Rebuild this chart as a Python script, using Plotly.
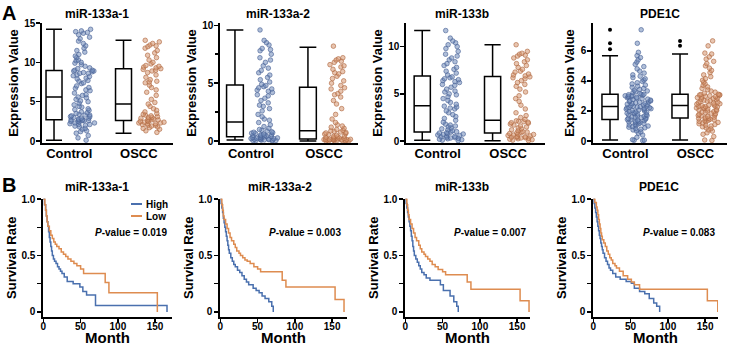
import plotly.graph_objects as go

# ---------------- data ----------------
genes = ["miR-133a-1", "miR-133a-2", "miR-133b", "PDE1C"]
groups = ["Control", "OSCC"]

# box statistics per gene
ctrl_lower = [0.1, 0.08, 0.1, 0.07]
ctrl_q1 = [2.7, 0.37, 0.97, 1.44]
ctrl_median = [5.6, 1.65, 3.75, 2.29]
ctrl_q3 = [8.96, 4.84, 6.9, 3.12]
ctrl_upper = [14.2, 9.6, 11.7, 5.68]
oscc_lower = [1.0, 0.0, 0.05, 0.07]
oscc_q1 = [2.6, 0.17, 0.85, 1.53]
oscc_median = [4.7, 0.88, 2.2, 2.36]
oscc_q3 = [9.2, 4.64, 6.85, 3.12]
oscc_upper = [12.8, 8.1, 10.2, 5.79]
ctrl_outliers = [[], [], [], [6.1, 6.5, 7.4]]
oscc_outliers = [[], [], [], [6.33, 6.66]]

# individual expression values (estimated)
ctrl_mir133a1 = [0.1, 0.4, 0.7, 1.0, 1.2, 1.3, 1.5, 1.6, 1.8, 1.9, 2.0, 2.1, 2.1, 2.2, 2.3, 2.3, 2.4, 2.5, 2.5, 2.6, 2.6, 2.6, 2.7, 2.7, 2.7,
                 2.8, 2.9, 2.9, 3.0, 3.1, 3.1, 3.2, 3.3, 3.3, 3.4, 3.5, 3.6, 3.7, 3.9, 4.0, 4.1, 4.3, 4.4, 4.6, 4.8, 5.0, 5.1, 5.3, 5.5, 5.6,
                 5.8, 5.9, 6.1, 6.4, 6.5, 6.7, 6.8, 7.0, 7.3, 7.4, 7.6, 7.7, 7.9, 8.0, 8.2, 8.3, 8.4, 8.6, 8.6, 8.7, 8.8, 8.9, 8.9, 9.0, 9.0,
                 9.2, 9.3, 9.5, 9.7, 9.9, 10.0, 10.2, 10.3, 10.6, 10.8, 11.0, 11.3, 11.5, 11.8, 12.1, 12.4, 12.7, 13.0, 13.2, 13.5, 13.7, 13.8, 13.9, 14.0, 14.2]
oscc_mir133a1 = [1.1, 1.3, 1.5, 1.6, 1.7, 1.8, 1.9, 2.0, 2.0, 2.1, 2.2, 2.2, 2.3, 2.3, 2.4, 2.4, 2.5, 2.5,
                 2.6, 2.7, 2.7, 2.8, 2.8, 2.9, 3.0, 3.0, 3.1, 3.2, 3.3, 3.4, 3.5, 3.7, 3.9, 4.1, 4.4, 4.7,
                 4.9, 5.3, 5.8, 6.2, 6.5, 6.8, 7.1, 7.4, 7.5, 7.6, 7.8, 8.1, 8.4, 8.7, 8.9, 9.0, 9.1, 9.2,
                 9.3, 9.4, 9.5, 9.6, 9.8, 10.0, 10.3, 10.6, 10.9, 11.2, 11.5, 11.8, 12.0, 12.1, 12.2, 12.4, 12.6, 12.8]
ctrl_mir133a2 = [0.02, 0.04, 0.05, 0.06, 0.08, 0.09, 0.1, 0.12, 0.14, 0.15, 0.17, 0.19, 0.2, 0.22, 0.25, 0.27, 0.29, 0.31, 0.33, 0.36,
                 0.39, 0.42, 0.45, 0.48, 0.5, 0.53, 0.56, 0.6, 0.64, 0.68, 0.72, 0.76, 0.8, 0.86, 0.93, 1.0, 1.1, 1.25, 1.4, 1.6,
                 1.8, 1.9, 2.1, 2.3, 2.6, 2.8, 3.0, 3.1, 3.3, 3.5, 3.7, 3.9, 4.0, 4.2, 4.3, 4.4, 4.5, 4.6, 4.7, 4.8,
                 4.9, 5.1, 5.3, 5.5, 5.7, 5.9, 6.1, 6.3, 6.5, 6.8, 7.0, 7.2, 7.5, 7.8, 7.9, 8.0, 8.3, 8.5, 8.7, 9.6]
oscc_mir133a2 = [0.01, 0.02, 0.03, 0.04, 0.05, 0.06, 0.07, 0.08, 0.09, 0.1, 0.1, 0.11, 0.12, 0.13, 0.14, 0.15, 0.16, 0.16,
                 0.18, 0.2, 0.23, 0.26, 0.3, 0.33, 0.37, 0.4, 0.45, 0.5, 0.55, 0.6, 0.65, 0.7, 0.74, 0.78, 0.83, 0.87,
                 0.92, 1.0, 1.1, 1.2, 1.3, 1.4, 1.6, 1.9, 2.3, 2.8, 3.2, 3.5, 3.8, 4.0, 4.1, 4.3, 4.5, 4.6,
                 4.8, 5.0, 5.2, 5.4, 5.6, 5.8, 5.9, 6.0, 6.2, 6.4, 6.5, 6.6, 6.8, 6.9, 7.0, 7.1, 7.2, 8.2]
ctrl_mir133b = [0.05, 0.1, 0.15, 0.2, 0.25, 0.3, 0.33, 0.37, 0.4, 0.45, 0.5, 0.55, 0.6, 0.65, 0.7, 0.75, 0.8, 0.85, 0.9, 0.95,
                1.0, 1.1, 1.2, 1.3, 1.4, 1.5, 1.6, 1.7, 1.8, 2.0, 2.2, 2.4, 2.6, 2.8, 3.0, 3.2, 3.4, 3.5, 3.6, 3.7,
                3.9, 4.1, 4.3, 4.5, 4.7, 4.9, 5.0, 5.2, 5.3, 5.5, 5.7, 5.9, 6.0, 6.2, 6.3, 6.4, 6.5, 6.6, 6.7, 6.8,
                7.0, 7.2, 7.4, 7.6, 7.8, 8.0, 8.2, 8.4, 8.6, 8.8, 9.0, 9.2, 9.5, 9.8, 10.0, 10.2, 10.4, 10.6, 10.9, 11.7]
oscc_mir133b = [0.05, 0.1, 0.15, 0.2, 0.25, 0.3, 0.33, 0.36, 0.4, 0.43, 0.46, 0.5, 0.55, 0.6, 0.65, 0.7, 0.75, 0.8,
                0.88, 0.92, 0.96, 1.0, 1.1, 1.2, 1.3, 1.4, 1.5, 1.6, 1.7, 1.8, 1.9, 1.95, 2.0, 2.05, 2.1, 2.15,
                2.3, 2.5, 2.7, 3.0, 3.4, 3.8, 4.2, 4.5, 4.8, 5.2, 5.5, 5.8, 6.0, 6.2, 6.4, 6.6, 6.7, 6.8,
                6.9, 7.0, 7.1, 7.3, 7.4, 7.6, 7.8, 8.0, 8.2, 8.4, 8.6, 8.8, 9.0, 9.1, 9.2, 9.3, 9.5, 10.2]
ctrl_pde1c = [0.03, 0.05, 0.06, 0.09, 0.25, 0.4, 0.52, 0.61, 0.68, 0.74, 0.79, 0.83, 0.88, 0.92, 0.97, 1.0, 1.04, 1.07, 1.1, 1.14,
              1.17, 1.2, 1.23, 1.27, 1.3, 1.33, 1.36, 1.38, 1.41, 1.43,
              1.46, 1.5, 1.52, 1.56, 1.59, 1.61, 1.65, 1.68, 1.7, 1.74, 1.77, 1.8, 1.83, 1.85, 1.89, 1.92, 1.94, 1.98, 2.01, 2.03,
              2.07, 2.1, 2.12, 2.15, 2.18, 2.2, 2.22, 2.24, 2.26, 2.28,
              2.31, 2.33, 2.36, 2.4, 2.42, 2.45, 2.49, 2.51, 2.54, 2.58, 2.6, 2.63, 2.67, 2.7, 2.72, 2.76, 2.79, 2.81, 2.85, 2.88,
              2.9, 2.93, 2.96, 2.98, 3.01, 3.03, 3.05, 3.08, 3.1, 3.11,
              3.16, 3.22, 3.27, 3.33, 3.38, 3.44, 3.5, 3.57, 3.65, 3.72, 3.8, 3.88, 3.97, 4.05, 4.14, 4.22, 4.31, 4.4, 4.52, 4.65,
              4.8, 4.95, 5.1, 5.25, 5.4, 5.55, 5.68, 5.9, 6.5, 7.4]
oscc_pde1c = [0.04, 0.07, 0.3, 0.45, 0.55, 0.66, 0.74, 0.82, 0.88, 0.95, 1.0, 1.06, 1.1, 1.15, 1.2, 1.24, 1.28, 1.31, 1.35, 1.38,
              1.42, 1.45, 1.48, 1.5, 1.52,
              1.55, 1.59, 1.63, 1.67, 1.7, 1.74, 1.78, 1.82, 1.85, 1.89, 1.93, 1.96, 2.0, 2.03, 2.07, 2.1, 2.14, 2.17, 2.2, 2.23,
              2.26, 2.29, 2.31, 2.33, 2.35,
              2.38, 2.41, 2.45, 2.48, 2.52, 2.55, 2.59, 2.62, 2.66, 2.69, 2.72, 2.76, 2.79, 2.82, 2.86, 2.89, 2.92, 2.95, 2.98, 3.01,
              3.04, 3.06, 3.08, 3.1, 3.11,
              3.18, 3.25, 3.33, 3.41, 3.5, 3.6, 3.7, 3.8, 3.92, 4.04, 4.15, 4.28, 4.4, 4.55, 4.7, 4.85, 5.0, 5.15, 5.3, 5.45,
              5.6, 5.79, 5.85, 6.33, 6.66]

ctrl_points = [ctrl_mir133a1, ctrl_mir133a2, ctrl_mir133b, ctrl_pde1c]
oscc_points = [oscc_mir133a1, oscc_mir133a2, oscc_mir133b, oscc_pde1c]

expr_tickvals = [[0, 5, 10, 15], [0, 5, 10], [0, 5, 10], [0, 2, 4, 6]]
expr_minorvals = [[], [2.5, 7.5], [], []]

# Kaplan-Meier step curves (month, survival) for High / Low expression
km_high_t = [
    [0, 1.5, 3, 4, 5, 6, 7, 8, 9, 10, 11, 12, 13.5, 15, 17, 19, 21, 23, 25, 28, 32, 40, 49, 53, 58, 70, 166],
    [0, 1, 2, 3, 4, 5, 6, 7, 8, 9, 10, 11, 12, 14, 16, 18, 20, 23, 26, 29, 32, 35, 38, 44, 48, 52, 56, 60, 65, 69, 71],
    [0, 1, 2, 3, 4, 5, 6, 7, 8, 9, 10, 11, 12, 14, 16, 18, 20, 22, 25, 28, 33, 47, 51, 60, 65, 69, 71],
    [0, 1, 2, 3, 4, 5, 6, 7, 8, 9, 10, 11, 12, 13, 15, 17, 19, 21, 23, 26, 30, 36, 44, 51, 55, 62, 69, 75, 81, 85, 89],
]
km_high_s = [
    [1.0, 0.95, 0.90, 0.85, 0.80, 0.76, 0.71, 0.66, 0.62, 0.58, 0.54, 0.50, 0.47, 0.45, 0.43, 0.40, 0.38, 0.36, 0.34, 0.31, 0.27, 0.25, 0.22, 0.18, 0.15, 0.056, 0.0],
    [1.0, 0.96, 0.92, 0.88, 0.83, 0.79, 0.75, 0.71, 0.67, 0.63, 0.59, 0.55, 0.52, 0.48, 0.45, 0.42, 0.40, 0.37, 0.35, 0.32, 0.29, 0.265, 0.24, 0.21, 0.19, 0.17, 0.14, 0.12, 0.09, 0.05, 0.0],
    [1.0, 0.96, 0.92, 0.88, 0.84, 0.80, 0.76, 0.72, 0.67, 0.63, 0.58, 0.54, 0.50, 0.47, 0.44, 0.41, 0.38, 0.35, 0.33, 0.30, 0.28, 0.24, 0.19, 0.14, 0.09, 0.05, 0.0],
    [1.0, 0.96, 0.92, 0.88, 0.84, 0.80, 0.76, 0.72, 0.68, 0.65, 0.61, 0.58, 0.55, 0.52, 0.48, 0.45, 0.42, 0.39, 0.37, 0.34, 0.31, 0.29, 0.27, 0.255, 0.21, 0.18, 0.16, 0.12, 0.08, 0.05, 0.0],
]
km_low_t = [
    [0, 2, 3, 4, 5, 6, 8, 10, 12, 14, 16, 18, 21, 24, 27, 30, 33, 37, 41, 45, 50, 54, 83, 88, 153],
    [0, 2, 3, 4, 5, 7, 9, 11, 13, 15, 18, 20, 22, 25, 27, 30, 33, 36, 40, 45, 50, 54, 83, 88, 154, 166],
    [0, 2, 3, 4, 5, 7, 9, 11, 13, 15, 18, 20, 22, 25, 27, 30, 33, 36, 40, 44, 50, 54, 83, 88, 154, 166],
    [0, 2, 4, 5, 6, 7, 8, 9, 10, 11, 12, 14, 16, 18, 20, 22, 24, 26, 29, 31, 35, 40, 46, 51, 55, 62, 153, 167],
]
km_low_s = [
    [1.0, 0.95, 0.90, 0.85, 0.80, 0.76, 0.72, 0.68, 0.65, 0.62, 0.60, 0.58, 0.56, 0.53, 0.51, 0.49, 0.47, 0.45, 0.43, 0.41, 0.38, 0.34, 0.26, 0.17, 0.0],
    [1.0, 0.95, 0.90, 0.85, 0.82, 0.78, 0.74, 0.70, 0.66, 0.63, 0.60, 0.57, 0.54, 0.52, 0.50, 0.48, 0.46, 0.45, 0.43, 0.40, 0.38, 0.355, 0.28, 0.22, 0.11, 0.0],
    [1.0, 0.95, 0.90, 0.86, 0.82, 0.78, 0.74, 0.70, 0.66, 0.63, 0.59, 0.56, 0.53, 0.51, 0.49, 0.47, 0.45, 0.42, 0.40, 0.375, 0.355, 0.33, 0.265, 0.20, 0.10, 0.0],
    [1.0, 0.97, 0.93, 0.90, 0.86, 0.82, 0.78, 0.74, 0.70, 0.67, 0.64, 0.61, 0.58, 0.54, 0.51, 0.48, 0.46, 0.43, 0.41, 0.39, 0.36, 0.32, 0.29, 0.265, 0.24, 0.20, 0.10, 0.0],
]
km_labels = ["High", "Low"]
p_values = ["0.019", "0.003", "0.007", "0.083"]
km_xticks = [0, 50, 100, 150]
km_yticks = [0, 0.5, 1.0]
km_yticklabels = ["0", "0.5", "1.0"]
km_yminor = [0.25, 0.75]

# ---------------- layout helpers ----------------
W, H = 734, 346
FONT = "Liberation Sans, Arial, Helvetica, sans-serif"


def px(x):
    return x / W


def py(y):
    return 1 - y / H


BLUE_FILL = "rgba(112,138,186,0.55)"
BLUE_EDGE = "rgba(72,98,150,0.8)"
ORANGE_FILL = "rgba(214,150,112,0.55)"
ORANGE_EDGE = "rgba(176,106,66,0.8)"
KM_BLUE = "#4a70ae"
KM_ORANGE = "#de8c50"

colA = [(42, 173), (220, 358), (406, 545), (593, 727)]
colB = [(43, 172), (220, 347), (405, 530), (593, 718)]
xrangeA = [[-0.393, 1.492], [-0.425, 1.466], [-0.451, 1.525], [-0.463, 1.451]]
yrangeA = [[-0.25, 15], [-0.17, 10.2], [-0.2, 12.5], [-0.13, 7.85]]
xrangeB = [[-0.5, 172.7], [-0.5, 170], [-0.5, 167.3], [-0.5, 167.3]]
BOX_OFF, BOX_W = -0.22, 0.23
PTS_OFF, PTS_W = 0.19, 0.39

fig = go.Figure()

for i in range(4):
    xa, ya = f"x{i + 1}", f"y{i + 1}"
    stats = [
        (ctrl_lower[i], ctrl_q1[i], ctrl_median[i], ctrl_q3[i], ctrl_upper[i], ctrl_points[i], ctrl_outliers[i], BLUE_FILL, BLUE_EDGE),
        (oscc_lower[i], oscc_q1[i], oscc_median[i], oscc_q3[i], oscc_upper[i], oscc_points[i], oscc_outliers[i], ORANGE_FILL, ORANGE_EDGE),
    ]
    for g, (lo, q1, med, q3, up, pts, outs, fill, edge) in enumerate(stats):
        fig.add_trace(go.Box(
            x=[g + BOX_OFF], q1=[q1], median=[med], q3=[q3], lowerfence=[lo], upperfence=[up],
            width=BOX_W, whiskerwidth=1, fillcolor="white",
            line=dict(color="black", width=1.5), boxpoints=False,
            xaxis=xa, yaxis=ya, showlegend=False, hoverinfo="skip"))
        fig.add_trace(go.Box(
            y=pts, x0=g + PTS_OFF, width=PTS_W, boxpoints="all", jitter=1, pointpos=0,
            fillcolor="rgba(0,0,0,0)", line=dict(color="rgba(0,0,0,0)", width=0),
            marker=dict(size=4.6, color=fill, line=dict(color=edge, width=0.8)),
            xaxis=xa, yaxis=ya, showlegend=False, hoverinfo="y"))
        if outs:
            fig.add_trace(go.Scatter(
                x=[g + BOX_OFF] * len(outs), y=outs, mode="markers",
                marker=dict(size=4, color="black"), xaxis=xa, yaxis=ya,
                showlegend=False, hoverinfo="y"))

for i in range(4):
    xa, ya = f"x{i + 5}", f"y{i + 5}"
    for t, s, c, name in [(km_high_t[i], km_high_s[i], KM_BLUE, km_labels[0]),
                          (km_low_t[i], km_low_s[i], KM_ORANGE, km_labels[1])]:
        fig.add_trace(go.Scatter(x=t, y=s, mode="lines", line=dict(color=c, width=1.5, shape="hv"),
                                 name=name, xaxis=xa, yaxis=ya, showlegend=False))

tickfont = dict(family=FONT, size=10, color="black", weight="bold")
base = dict(showline=True, linecolor="black", linewidth=1.6, ticks="outside", ticklen=4,
            tickwidth=1.5, tickcolor="black", showgrid=False, zeroline=False,
            tickfont=tickfont, fixedrange=True, automargin=False)

layout = {}
for i in range(4):
    n = i + 1
    xn = "xaxis" if n == 1 else f"xaxis{n}"
    yn = "yaxis" if n == 1 else f"yaxis{n}"
    layout[xn] = dict(base, domain=[px(colA[i][0]), px(colA[i][1])], range=xrangeA[i],
                      anchor=f"y{n}", tickvals=[0, 1], ticktext=groups, ticks="",
                      ticklabelstandoff=-2, tickfont=dict(tickfont, size=13))
    ydict = dict(base, domain=[py(143), py(23)], range=yrangeA[i], anchor=f"x{n}",
                 tickvals=expr_tickvals[i], ticklabelstandoff=-1,
                 title=dict(text="Expression Value", standoff=3,
                            font=dict(family=FONT, size=13, color="black", weight="bold")))
    if expr_minorvals[i]:
        ydict["minor"] = dict(tickvals=expr_minorvals[i], ticks="outside", ticklen=3,
                              tickwidth=1.5, tickcolor="black")
    layout[yn] = ydict
    m = i + 5
    layout[f"xaxis{m}"] = dict(base, domain=[px(colB[i][0]), px(colB[i][1])], range=xrangeB[i],
                               anchor=f"y{m}", tickvals=km_xticks, ticklabelstandoff=-5,
                               title=dict(text="Month", standoff=4,
                                          font=dict(family=FONT, size=15, color="black", weight="bold")))
    layout[f"yaxis{m}"] = dict(base, domain=[py(317), py(198.5)], range=[-0.045, 1.005], anchor=f"x{m}",
                               tickvals=km_yticks, ticktext=km_yticklabels,
                               minor=dict(tickvals=km_yminor, ticks="outside", ticklen=4,
                                          tickwidth=1.5, tickcolor="black"),
                               title=dict(text="Survival Rate", standoff=2,
                                          font=dict(family=FONT, size=13, color="black", weight="bold")))

ann = []
titleA_x = [97, 278, 461.5, 660]
titleB_x = [97, 280, 461.7, 658.5]
for i in range(4):
    ann.append(dict(x=px(titleA_x[i]), y=py(14), xref="paper", yref="paper", text=genes[i],
                    showarrow=False, xanchor="center", yanchor="middle",
                    font=dict(family=FONT, size=12, color="black", weight="bold")))
    ann.append(dict(x=px(titleB_x[i]), y=py(187), xref="paper", yref="paper", text=genes[i],
                    showarrow=False, xanchor="center", yanchor="middle",
                    font=dict(family=FONT, size=12, color="black", weight="bold")))
pv_right = [169, 343, 528, 717]
for i in range(4):
    ann.append(dict(x=px(pv_right[i]), y=py(232), xref="paper", yref="paper",
                    text=f"<i>P</i>-value = {p_values[i]}", showarrow=False,
                    xanchor="right", yanchor="middle",
                    font=dict(family=FONT, size=10, color="black", weight="bold")))
for letter, yy in [("A", 0), ("B", 172)]:
    ann.append(dict(x=px(0), y=py(yy), xref="paper", yref="paper", text=letter, showarrow=False,
                    xanchor="left", yanchor="top",
                    font=dict(family=FONT, size=20, color="black", weight="bold")))
# legend (panel B, first plot)
shapes = []
for lbl, col, yy in [(km_labels[0], KM_BLUE, 204), (km_labels[1], KM_ORANGE, 216)]:
    shapes.append(dict(type="line", xref="paper", yref="paper", x0=px(131), x1=px(142),
                       y0=py(yy), y1=py(yy), line=dict(color=col, width=2)))
    ann.append(dict(x=px(144), y=py(yy), xref="paper", yref="paper", text=lbl, showarrow=False,
                    xanchor="left", yanchor="middle",
                    font=dict(family=FONT, size=10, color="black", weight="bold")))

fig.update_layout(
    width=W, height=H, margin=dict(l=0, r=0, t=0, b=0),
    template="none", paper_bgcolor="white", plot_bgcolor="white",
    boxmode="overlay", showlegend=False, annotations=ann, shapes=shapes,
    font=dict(family=FONT, color="black"), hovermode=False,
    **layout)

fig.write_html("out.html", config={"displayModeBar": False, "staticPlot": True},
               post_script="document.body.style.margin='0px';document.body.style.overflow='hidden';")
